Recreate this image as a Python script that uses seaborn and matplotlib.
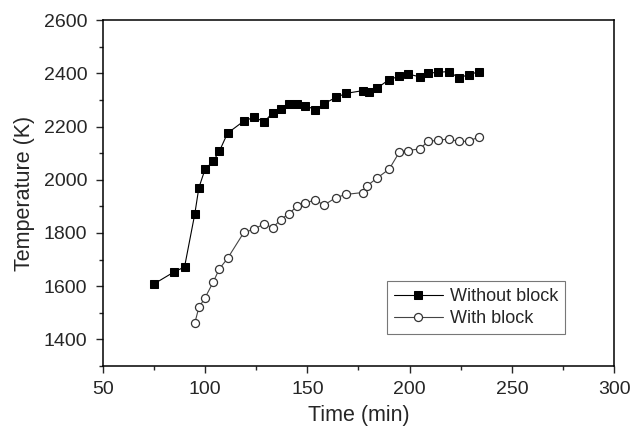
import numpy as np
import pandas as pd
import seaborn as sns
import matplotlib
matplotlib.use('Agg')
import matplotlib.pyplot as plt
from matplotlib.ticker import MultipleLocator

# values
time_without = [75, 85, 90, 95, 97, 100, 104, 107, 111, 119, 124, 129, 133, 137, 141, 145, 149,
                154, 158, 164, 169, 177, 180, 184, 190, 195, 199, 205, 209, 214, 219, 224, 229, 234]
temp_without = [1608, 1654, 1672, 1871, 1970, 2039, 2070, 2107, 2175, 2221, 2235, 2218, 2252, 2266, 2284, 2284, 2279,
                2263, 2285, 2310, 2325, 2335, 2331, 2344, 2377, 2389, 2398, 2387, 2401, 2404, 2407, 2384, 2395, 2407]

time_with = [95, 97, 100, 104, 107, 111, 119, 124, 129, 133, 137, 141, 145, 149, 154, 158,
             164, 169, 177, 179, 184, 190, 195, 199, 205, 209, 214, 219, 224, 229, 234]
temp_with = [1461, 1520, 1556, 1615, 1665, 1704, 1802, 1814, 1835, 1819, 1850, 1873, 1900, 1912, 1925, 1904,
             1933, 1945, 1952, 1976, 2006, 2040, 2104, 2110, 2116, 2145, 2148, 2154, 2144, 2145, 2162]

sns.set_style('ticks')
plt.rcParams['font.family'] = ['Liberation Sans', 'DejaVu Sans']
plt.rcParams['font.size'] = 13

fig, ax = plt.subplots(figsize=(6.3, 4.3), dpi=100)
fig.subplots_adjust(left=0.163, right=0.975, top=0.953, bottom=0.149)

sns.lineplot(x=time_without, y=temp_without, ax=ax, color='black', lw=0.8,
             marker='s', ms=5.8, mfc='black', mec='black', estimator=None, sort=False,
             label='Without block')
sns.lineplot(x=time_with, y=temp_with, ax=ax, color='#444444', lw=0.8,
             marker='o', ms=5.8, mfc='white', mec='#333333', mew=0.9, estimator=None, sort=False,
             label='With block')

ax.set_xlim(50, 300)
ax.set_ylim(1300, 2600)
ax.xaxis.set_major_locator(MultipleLocator(50))
ax.xaxis.set_minor_locator(MultipleLocator(25))
ax.yaxis.set_major_locator(MultipleLocator(200))
ax.yaxis.set_minor_locator(MultipleLocator(100))
ax.set_yticks([1400, 1600, 1800, 2000, 2200, 2400, 2600])
ax.tick_params(which='major', direction='out', length=5, width=1, labelsize=14, pad=6)
ax.tick_params(which='minor', direction='out', length=3, width=1)
for s in ax.spines.values():
    s.set_linewidth(1.1)
    s.set_color('black')

ax.set_xlabel('Time (min)', fontsize=15.5, labelpad=5)
ax.set_ylabel('Temperature (K)', fontsize=15.5, labelpad=6)

leg = ax.legend(loc='lower right', bbox_to_anchor=(0.904, 0.092), borderaxespad=0,
                frameon=True, fancybox=False, edgecolor='#555555', fontsize=13,
                handlelength=2.7, borderpad=0.38, labelspacing=0.3, handletextpad=0.4)
leg.get_frame().set_linewidth(0.8)

plt.savefig('out.png', dpi=100)
